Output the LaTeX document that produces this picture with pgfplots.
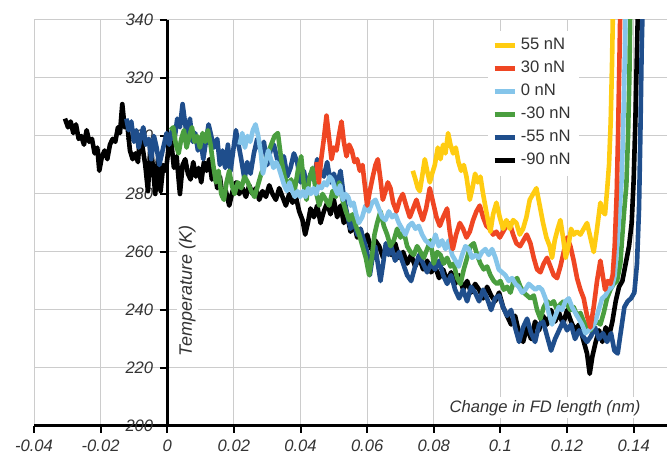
\documentclass[border=0pt]{standalone}
\usepackage{fontspec}
\setmainfont{Liberation Sans}
\usepackage{pgfplots}
\pgfplotsset{compat=1.18}
\definecolor{cYel}{HTML}{FFCC11}
\definecolor{cRed}{HTML}{EF4623}
\definecolor{cLbl}{HTML}{85C5EA}
\definecolor{cGrn}{HTML}{4A9E3F}
\definecolor{cDbl}{HTML}{1F4E8C}
\definecolor{cTxt}{HTML}{333333}
\begin{document}
\begin{tikzpicture}
\begin{axis}[
  scale only axis, width=316.5pt, height=203pt,
  xmin=-0.04, xmax=0.15, ymin=200, ymax=340,
  axis x line*=bottom, axis y line*=middle,
  xtick={-0.04,-0.02,0,0.02,0.04,0.06,0.08,0.1,0.12,0.14},
  xticklabels={-0.04,-0.02,0,0.02,0.04,0.06,0.08,0.1,0.12,0.14},
  ytick={200,220,240,260,280,300,320,340},
  yticklabels={200,220,240,260,280,300,320,340},
  scaled x ticks=false,
  grid=major, major grid style={black!20, line width=0.5pt},
  axis line style={line width=1.5pt, black},
  tick style={black, line width=1pt}, major tick length=3.5pt, tick align=outside,
  ticklabel style={font=\fontsize{8.3}{10}\selectfont\itshape, text=cTxt},
  hide obscured x ticks=false, hide obscured y ticks=false,
  every axis plot/.append style={line width=2.3pt, line join=round, no markers},
  legend style={at={(0.717,0.975)}, anchor=north west, draw=none, fill=white,
    font=\fontsize{8.3}{10}\selectfont, text=cTxt, row sep=0.2pt, inner sep=2pt,
    cells={anchor=west}},
  legend image code/.code={\draw[#1, line width=2.3pt] (0cm,0cm) -- (10pt,0cm);},
  reverse legend,
]
\coordinate (sw) at (rel axis cs:0,0);
\coordinate (ne) at (rel axis cs:1,1);
% -90 nN
\addplot[black] coordinates {(-0.0307,306) (-0.0298,303) (-0.0290,305) (-0.0282,301) (-0.0274,304) (-0.0266,299) (-0.0258,300) (-0.0250,297) (-0.0242,302) (-0.0234,298) (-0.0226,299) (-0.0218,294) (-0.0210,296) (-0.0204,288) (-0.0196,293) (-0.0188,295) (-0.0180,292) (-0.0172,297) (-0.0164,299) (-0.0156,298) (-0.0148,303) (-0.0142,301) (-0.0135,311) (-0.0128,303) (-0.0120,304) (-0.0112,295) (-0.0104,292) (-0.0096,294) (-0.0088,291) (-0.0082,300) (-0.0074,296) (-0.0066,290) (-0.0058,281) (-0.0050,298) (-0.0043,289) (-0.0036,280) (-0.0028,292) (-0.0020,281) (-0.0012,290) (-0.0004,288) (0.0004,296) (0.0012,298) (0.0020,289) (0.0028,293) (0.0038,280) (0.0046,290) (0.0054,292) (0.0062,287) (0.0070,285) (0.0078,291) (0.0086,286) (0.0094,289) (0.0102,284) (0.0110,291) (0.0118,288) (0.0126,292) (0.0134,285) (0.0142,288) (0.0150,282) (0.0158,286) (0.0166,279) (0.0176,281) (0.0186,276) (0.0196,281) (0.0206,284) (0.0216,280) (0.0226,282) (0.0236,279) (0.0246,283) (0.0256,280) (0.0266,282) (0.0276,278) (0.0286,281) (0.0296,279) (0.0306,283) (0.0316,280) (0.0326,278) (0.0336,282) (0.0346,279) (0.0356,276) (0.0366,280) (0.0376,277) (0.0386,279) (0.0396,274) (0.0406,271) (0.0414,266) (0.0422,270) (0.0430,275) (0.0440,272) (0.0450,276) (0.0460,270) (0.0470,274) (0.0480,277) (0.0490,273) (0.0500,278) (0.0510,272) (0.0520,276) (0.0530,270) (0.0540,273) (0.0550,267) (0.0560,270) (0.0570,265) (0.0580,268) (0.0590,263) (0.0600,266) (0.0612,261) (0.0624,264) (0.0636,262) (0.0648,258) (0.0660,262) (0.0672,259) (0.0684,263) (0.0696,258) (0.0708,260) (0.0720,256) (0.0732,259) (0.0744,255) (0.0756,258) (0.0768,254) (0.0780,257) (0.0792,253) (0.0804,255) (0.0816,251) (0.0828,254) (0.0840,250) (0.0852,253) (0.0864,249) (0.0876,252) (0.0888,247) (0.0900,250) (0.0912,246) (0.0924,249) (0.0936,247) (0.0948,244) (0.0960,248) (0.0972,245) (0.0984,243) (0.0996,246) (0.1008,241) (0.1020,238) (0.1032,235) (0.1044,238) (0.1056,232) (0.1068,229) (0.1080,234) (0.1092,230) (0.1104,236) (0.1116,233) (0.1128,238) (0.1140,235) (0.1152,240) (0.1164,236) (0.1176,239) (0.1188,235) (0.1200,240) (0.1212,236) (0.1224,233) (0.1236,235) (0.1248,230) (0.1260,225) (0.1268,218) (0.1276,224) (0.1286,229) (0.1296,233) (0.1306,229) (0.1316,234) (0.1326,231) (0.1336,236) (0.1346,243) (0.1356,248) (0.1366,250) (0.1376,256) (0.1386,262) (0.1394,270) (0.1400,285) (0.1405,305) (0.1410,330) (0.1413,345)};
% -55 nN
\addplot[cDbl] coordinates {(-0.0123,306) (-0.0116,302) (-0.0108,305) (-0.0100,298) (-0.0093,302) (-0.0086,296) (-0.0079,300) (-0.0072,303) (-0.0064,297) (-0.0056,299) (-0.0048,292) (-0.0040,300) (-0.0032,296) (-0.0024,290) (-0.0018,293) (-0.0010,297) (-0.0002,301) (0.0006,297) (0.0014,302) (0.0022,299) (0.0030,306) (0.0038,303) (0.0046,311) (0.0054,304) (0.0060,300) (0.0068,306) (0.0076,298) (0.0084,301) (0.0092,295) (0.0100,299) (0.0108,292) (0.0116,298) (0.0124,304) (0.0132,300) (0.0140,296) (0.0150,299) (0.0158,290) (0.0166,295) (0.0174,289) (0.0182,297) (0.0190,288) (0.0198,295) (0.0206,302) (0.0214,297) (0.0222,292) (0.0232,285) (0.0240,291) (0.0250,287) (0.0260,294) (0.0270,299) (0.0280,295) (0.0290,298) (0.0300,290) (0.0310,295) (0.0320,297) (0.0330,292) (0.0340,289) (0.0350,293) (0.0360,286) (0.0370,289) (0.0380,294) (0.0390,291) (0.0400,284) (0.0410,288) (0.0420,282) (0.0430,287) (0.0440,285) (0.0450,292) (0.0460,288) (0.0470,286) (0.0480,291) (0.0490,284) (0.0500,287) (0.0510,283) (0.0520,288) (0.0530,279) (0.0540,273) (0.0550,268) (0.0560,271) (0.0570,266) (0.0580,268) (0.0590,264) (0.0600,260) (0.0608,252) (0.0616,258) (0.0624,262) (0.0632,256) (0.0640,250) (0.0648,256) (0.0656,263) (0.0664,259) (0.0672,262) (0.0684,257) (0.0696,260) (0.0708,256) (0.0720,252) (0.0732,250) (0.0744,255) (0.0756,259) (0.0768,256) (0.0780,253) (0.0792,256) (0.0804,254) (0.0816,257) (0.0828,252) (0.0840,249) (0.0852,252) (0.0864,247) (0.0876,244) (0.0888,247) (0.0900,243) (0.0912,248) (0.0924,246) (0.0936,243) (0.0948,247) (0.0960,244) (0.0972,240) (0.0984,244) (0.0996,245) (0.1008,241) (0.1020,238) (0.1032,240) (0.1044,234) (0.1056,229) (0.1068,234) (0.1080,237) (0.1092,232) (0.1104,229) (0.1116,235) (0.1128,236) (0.1140,231) (0.1152,226) (0.1164,230) (0.1176,233) (0.1188,236) (0.1200,233) (0.1212,235) (0.1224,230) (0.1236,233) (0.1248,231) (0.1260,229) (0.1272,231) (0.1284,234) (0.1296,230) (0.1308,232) (0.1320,229) (0.1332,232) (0.1342,226) (0.1352,225) (0.1362,233) (0.1372,241) (0.1382,243) (0.1392,244) (0.1402,246) (0.1410,256) (0.1416,275) (0.1420,300) (0.1424,330) (0.1427,345)};
% -30 nN
\addplot[cGrn] coordinates {(0.0010,302) (0.0018,303) (0.0026,297) (0.0034,294) (0.0042,299) (0.0050,302) (0.0058,296) (0.0066,300) (0.0074,303) (0.0082,298) (0.0090,300) (0.0098,296) (0.0106,301) (0.0114,298) (0.0122,302) (0.0130,297) (0.0138,290) (0.0146,284) (0.0154,288) (0.0162,280) (0.0170,278) (0.0178,284) (0.0186,288) (0.0194,283) (0.0202,280) (0.0212,284) (0.0222,282) (0.0232,286) (0.0242,284) (0.0252,281) (0.0262,279) (0.0272,283) (0.0282,287) (0.0292,290) (0.0302,294) (0.0312,297) (0.0322,300) (0.0332,301) (0.0342,292) (0.0352,286) (0.0362,283) (0.0372,285) (0.0382,281) (0.0392,288) (0.0402,293) (0.0410,283) (0.0418,278) (0.0426,285) (0.0436,289) (0.0446,281) (0.0456,276) (0.0466,280) (0.0476,278) (0.0486,276) (0.0496,281) (0.0506,279) (0.0516,284) (0.0526,278) (0.0536,274) (0.0546,271) (0.0556,273) (0.0566,269) (0.0576,266) (0.0586,262) (0.0596,258) (0.0606,252) (0.0614,258) (0.0622,266) (0.0630,270) (0.0640,274) (0.0650,269) (0.0660,266) (0.0670,262) (0.0680,264) (0.0690,268) (0.0700,265) (0.0710,267) (0.0720,262) (0.0730,260) (0.0740,259) (0.0750,262) (0.0760,260) (0.0770,258) (0.0780,261) (0.0790,264) (0.0800,256) (0.0810,260) (0.0820,259) (0.0830,256) (0.0840,258) (0.0850,255) (0.0860,256) (0.0870,251) (0.0880,249) (0.0890,254) (0.0900,258) (0.0910,262) (0.0920,263) (0.0930,259) (0.0940,256) (0.0950,254) (0.0960,255) (0.0970,252) (0.0980,250) (0.0990,249) (0.1000,250) (0.1010,247) (0.1020,248) (0.1030,246) (0.1040,250) (0.1050,251) (0.1060,248) (0.1070,246) (0.1080,245) (0.1090,244) (0.1100,245) (0.1110,240) (0.1120,237) (0.1130,241) (0.1140,243) (0.1150,242) (0.1160,243) (0.1170,240) (0.1180,242) (0.1190,243) (0.1200,242) (0.1210,240) (0.1220,241) (0.1230,238) (0.1240,239) (0.1250,236) (0.1260,234) (0.1270,233) (0.1280,235) (0.1290,236) (0.1300,235) (0.1310,239) (0.1320,244) (0.1330,247) (0.1340,249) (0.1350,250) (0.1360,256) (0.1366,266) (0.1372,275) (0.1378,283) (0.1383,300) (0.1387,320) (0.1390,345)};
% 0 nN
\addplot[cLbl] coordinates {(0.0217,297) (0.0225,301) (0.0233,296) (0.0241,300) (0.0249,298) (0.0257,302) (0.0265,304) (0.0273,300) (0.0281,294) (0.0287,287) (0.0295,291) (0.0303,295) (0.0311,292) (0.0319,289) (0.0327,291) (0.0335,289) (0.0343,286) (0.0351,283) (0.0359,281) (0.0367,284) (0.0375,281) (0.0383,279) (0.0391,281) (0.0399,279) (0.0407,281) (0.0415,279) (0.0423,282) (0.0431,280) (0.0439,282) (0.0447,280) (0.0455,283) (0.0463,282) (0.0471,284) (0.0479,283) (0.0487,286) (0.0495,285) (0.0503,282) (0.0511,280) (0.0519,283) (0.0527,278) (0.0535,280) (0.0543,279) (0.0551,276) (0.0559,277) (0.0567,273) (0.0575,270) (0.0585,272) (0.0595,276) (0.0605,274) (0.0615,277) (0.0625,278) (0.0635,275) (0.0645,272) (0.0655,271) (0.0665,274) (0.0675,272) (0.0685,273) (0.0695,270) (0.0705,268) (0.0715,266) (0.0725,269) (0.0735,270) (0.0745,268) (0.0755,269) (0.0765,266) (0.0775,264) (0.0785,263) (0.0795,262) (0.0805,266) (0.0815,262) (0.0825,264) (0.0835,261) (0.0845,264) (0.0855,259) (0.0865,257) (0.0875,255) (0.0885,259) (0.0895,262) (0.0905,261) (0.0915,258) (0.0925,259) (0.0935,258) (0.0945,260) (0.0955,261) (0.0965,259) (0.0975,261) (0.0985,258) (0.0995,254) (0.1005,253) (0.1015,252) (0.1025,250) (0.1035,251) (0.1045,249) (0.1055,248) (0.1065,246) (0.1075,247) (0.1085,249) (0.1095,248) (0.1105,247) (0.1115,248) (0.1125,247) (0.1135,244) (0.1145,239) (0.1155,235) (0.1165,238) (0.1175,241) (0.1185,240) (0.1195,243) (0.1205,244) (0.1215,241) (0.1225,239) (0.1235,237) (0.1245,235) (0.1255,232) (0.1265,233) (0.1275,234) (0.1285,236) (0.1295,240) (0.1305,244) (0.1315,245) (0.1325,247) (0.1335,248) (0.1343,252) (0.1350,262) (0.1358,275) (0.1364,285) (0.1369,305) (0.1373,325) (0.1376,345)};
% 30 nN
\addplot[cRed] coordinates {(0.0448,291) (0.0455,284) (0.0462,292) (0.0470,299) (0.0478,307) (0.0485,300) (0.0493,292) (0.0500,296) (0.0508,295) (0.0515,300) (0.0523,305) (0.0530,298) (0.0538,293) (0.0546,297) (0.0554,295) (0.0562,291) (0.0570,292) (0.0578,288) (0.0586,290) (0.0594,282) (0.0600,276) (0.0608,281) (0.0617,286) (0.0625,290) (0.0632,292) (0.0640,285) (0.0647,278) (0.0655,281) (0.0662,284) (0.0670,282) (0.0678,277) (0.0688,274) (0.0698,278) (0.0707,280) (0.0717,276) (0.0728,272) (0.0738,275) (0.0748,278) (0.0758,274) (0.0767,271) (0.0777,275) (0.0788,282) (0.0798,277) (0.0808,272) (0.0818,269) (0.0828,272) (0.0840,275) (0.0848,267) (0.0857,261) (0.0867,266) (0.0878,270) (0.0888,268) (0.0898,265) (0.0908,267) (0.0918,271) (0.0928,274) (0.0938,276) (0.0948,272) (0.0958,269) (0.0968,268) (0.0978,266) (0.0988,267) (0.0998,265) (0.1008,267) (0.1018,269) (0.1028,270) (0.1038,266) (0.1048,263) (0.1059,262) (0.1069,264) (0.1079,266) (0.1090,263) (0.1100,258) (0.1110,254) (0.1120,253) (0.1130,256) (0.1140,258) (0.1150,255) (0.1160,252) (0.1170,251) (0.1180,255) (0.1190,260) (0.1200,265) (0.1210,262) (0.1220,257) (0.1230,251) (0.1240,247) (0.1250,244) (0.1260,238) (0.1270,234) (0.1280,241) (0.1290,250) (0.1300,257) (0.1307,252) (0.1314,247) (0.1322,250) (0.1330,249) (0.1337,252) (0.1343,262) (0.1349,280) (0.1353,300) (0.1357,325) (0.1360,345)};
% 55 nN
\addplot[cYel] coordinates {(0.0737,288) (0.0745,285) (0.0752,282) (0.0758,281) (0.0765,286) (0.0773,292) (0.0780,288) (0.0788,284) (0.0795,287) (0.0803,290) (0.0812,296) (0.0820,292) (0.0828,297) (0.0835,294) (0.0843,301) (0.0850,297) (0.0858,294) (0.0866,296) (0.0874,291) (0.0882,288) (0.0890,290) (0.0898,286) (0.0908,278) (0.0916,282) (0.0924,287) (0.0932,284) (0.0940,286) (0.0948,280) (0.0956,275) (0.0964,270) (0.0970,267) (0.0978,273) (0.0988,277) (0.0998,272) (0.1008,268) (0.1018,271) (0.1028,268) (0.1038,271) (0.1048,270) (0.1058,266) (0.1068,268) (0.1078,272) (0.1088,278) (0.1098,280) (0.1108,282) (0.1118,276) (0.1128,270) (0.1138,265) (0.1148,262) (0.1155,258) (0.1163,264) (0.1172,268) (0.1180,271) (0.1188,265) (0.1196,258) (0.1204,262) (0.1212,268) (0.1220,266) (0.1230,267) (0.1240,266) (0.1250,268) (0.1260,270) (0.1270,265) (0.1280,260) (0.1290,268) (0.1300,277) (0.1307,274) (0.1314,273) (0.1320,281) (0.1326,290) (0.1331,305) (0.1335,325) (0.1338,345)};
\legend{-90 nN,-55 nN,-30 nN,0 nN,30 nN,55 nN}
\node[rotate=90, fill=white, inner sep=1pt, font=\fontsize{9}{10}\selectfont\itshape, text=cTxt] at (axis cs:0.006,246.5) {Temperature (K)};
\node[fill=white, inner sep=1.5pt, font=\fontsize{8.3}{10}\selectfont\itshape, text=cTxt] at (axis cs:0.1134,206.3) {Change in FD length (nm)};
\end{axis}
\pgfresetboundingbox
\path[use as bounding box] ([shift={(-17pt,-14.5pt)}]sw) rectangle ([shift={(1.5pt,10pt)}]ne);
\end{tikzpicture}
\end{document}
